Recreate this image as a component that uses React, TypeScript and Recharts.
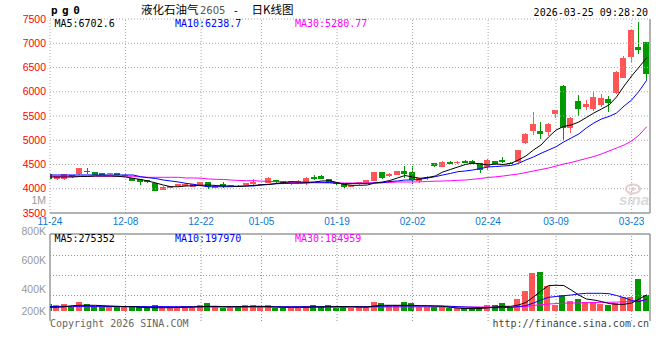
import React from 'react';
import { ComposedChart, Bar, Line, XAxis, YAxis, ReferenceLine } from 'recharts';

// ---------- data ----------
const dates = ['11-24','11-25','11-26','11-27','11-28','12-01','12-02','12-03','12-04','12-05','12-08','12-09','12-10','12-11','12-12','12-15','12-16','12-17','12-18','12-19','12-22','12-23','12-24','12-25','12-26','12-29','12-30','12-31','01-05','01-06','01-07','01-08','01-09','01-12','01-13','01-14','01-15','01-16','01-19','01-20','01-21','01-22','01-23','01-26','01-27','01-28','01-29','01-30','02-02','02-03','02-04','02-05','02-06','02-09','02-10','02-11','02-12','02-13','02-24','02-25','02-26','02-27','03-02','03-03','03-04','03-05','03-06','03-09','03-10','03-11','03-12','03-13','03-16','03-17','03-18','03-19','03-20','03-23','03-24','03-25'];

const tickLabels = ['11-24','12-08','12-22','01-05','01-19','02-02','02-24','03-09','03-23'];

const opens = [4300,4195,4195,4278,4290,4366,4339,4325,4298,4319,
  4263,4225,4200,4180,4115,3990,4022,4042,4057,4036,
  4063,4133,4030,4092,4050,4060,4063,4092,4075,4133,
  4174,4160,4100,4125,4145,4249,4269,4201,4133,4098,
  4036,4092,4112,4166,4345,4249,4284,4356,4352,4145,
  4215,4525,4455,4558,4537,4578,4578,4525,4455,4572,
  4593,4537,4558,4937,5176,5191,5156,5541,6119,5259,
  5809,5692,5638,5727,5851,5981,6290,6723,6916,7020];
const highs = [4315,4270,4305,4285,4430,4428,4345,4330,4325,4322,
  4300,4230,4205,4185,4120,4050,4060,4098,4115,4098,
  4145,4140,4068,4145,4082,4068,4118,4200,4098,4235,
  4187,4165,4170,4172,4249,4283,4290,4210,4140,4105,
  4080,4145,4188,4352,4350,4319,4368,4475,4470,4230,
  4270,4540,4565,4565,4565,4600,4585,4530,4620,4580,
  4650,4545,4805,5140,5589,5383,5350,5630,6130,5486,
  5933,5830,6016,5953,5912,6420,6737,7280,7444,7030];
const lows = [4175,4190,4190,4230,4285,4304,4280,4280,4290,4280,
  4250,4165,4090,4120,3955,3985,4015,4035,4050,4030,
  4055,3990,4000,4022,4045,4025,4058,4063,4068,4128,
  4128,4105,4090,4118,4077,4180,4200,4140,4085,4030,
  4030,4085,4105,4160,4200,4228,4278,4228,4100,4130,
  4180,4450,4445,4520,4500,4540,4520,4325,4400,4500,
  4525,4500,4540,4920,5108,5040,5090,5460,5005,5156,
  5500,5624,5603,5692,5589,5954,6280,6620,6793,6242];
const closes = [4195,4263,4298,4236,4422,4345,4284,4284,4319,4284,
  4285,4170,4145,4135,3960,4045,4057,4092,4104,4092,
  4133,4030,4063,4042,4077,4030,4112,4133,4090,4228,
  4133,4112,4150,4166,4228,4201,4207,4145,4092,4042,
  4071,4139,4180,4345,4228,4298,4360,4284,4180,4215,
  4240,4455,4558,4525,4558,4545,4525,4387,4593,4504,
  4558,4510,4799,5129,5329,5123,5329,5624,5259,5465,
  5638,5747,5886,5865,5774,6414,6702,7273,6847,6366];

const ma5 = [4242,4242,4242,4242,4253,4253,4263,4263,4263,4257,
  4242,4216,4191,4160,4119,4077,4042,4042,4057,4063,
  4071,4077,4067,4057,4057,4046,4057,4071,4077,4088,
  4108,4129,4145,4139,4133,4139,4160,4166,4129,4088,
  4071,4071,4077,4119,4139,4170,4222,4273,4242,4216,
  4232,4263,4345,4397,4449,4500,4531,4510,4490,4510,
  4500,4521,4593,4675,4799,4902,5067,5211,5284,5315,
  5376,5469,5562,5644,5727,5892,6119,6325,6511,6702.6];
const ma10 = [4284,4284,4284,4284,4284,4284,4284,4284,4284,4284,
  4284,4284,4249,4228,4211,4180,4160,4139,4112,4092,
  4063,4040,4042,4042,4042,4053,4057,4057,4084,4092,
  4104,4108,4112,4112,4119,4133,4133,4129,4112,4108,
  4108,4108,4108,4119,4125,4150,4160,4180,4180,4195,
  4222,4249,4284,4315,4352,4366,4387,4418,4449,4459,
  4469,4479,4521,4593,4655,4731,4799,4867,4964,5047,
  5129,5253,5356,5438,5490,5562,5706,5830,6016,6238.7];
const ma30 = [4258,4258,4258,4258,4258,4258,4258,4258,4258,4258,
  4258,4258,4242,4236,4236,4236,4236,4236,4222,4222,
  4218,4201,4195,4191,4180,4170,4166,4166,4156,4150,
  4145,4139,4129,4125,4125,4123,4122,4120,4120,4118,
  4118,4118,4120,4122,4125,4129,4139,4139,4139,4143,
  4150,4156,4160,4166,4174,4180,4195,4211,4232,4246,
  4263,4284,4304,4335,4366,4397,4428,4469,4510,4541,
  4583,4624,4665,4717,4778,4840,4902,4985,5108,5280.77];

const volumes = [118400,103700,119600,72800,152900,118100,84600,73500,85200,72400,
  85800,73300,72900,74100,102600,85400,63200,62800,63500,62600,
  101900,136400,84700,56300,79800,85100,102300,101700,85600,102100,
  56400,55900,56200,56700,84900,102500,85300,101800,56100,84800,
  56500,85200,84600,153200,136100,102400,101600,152800,136300,73200,
  72700,73400,72600,56200,55800,46300,45900,73100,102200,101900,
  136200,56400,204100,340200,646300,663100,425200,110400,272300,170100,
  204300,148200,147600,119300,102100,141300,238400,237800,544200,271900];

const volMa5 = [62900,62900,73100,90100,96900,96900,96900,90100,85000,79900,
  73100,73100,62900,56100,56100,56100,56100,59500,62900,68000,
  73100,79900,79900,73100,73100,73100,73100,79900,79900,73100,
  68000,62900,62900,62900,62900,68000,68000,73100,73100,73100,
  73100,68000,68000,85000,96900,96900,96900,96900,96900,90100,
  90100,85000,79900,62900,51000,42500,39100,42500,56100,68000,
  79900,79900,102000,144500,238000,340000,433500,436900,433500,357000,
  272000,204000,187000,161500,127500,113900,113900,136000,204000,275352];
const volMa10 = [76500,76500,79900,79900,79900,79900,79900,79900,76500,76500,
  76500,76500,76500,73100,73100,73100,73100,73100,73100,73100,
  73100,73100,73100,73100,73100,73100,73100,73100,73100,73100,
  73100,73100,73100,73100,73100,73100,73100,73100,73100,73100,
  73100,73100,73100,79900,79900,85000,85000,85000,85000,85000,
  85000,85000,85000,79900,73100,68000,62900,59500,56100,56100,
  59500,59500,76500,90100,136000,187000,232900,246500,260100,272000,
  289000,300900,300900,300900,294100,263500,226100,178500,161500,197970];
const volMa30 = [76500,76500,76500,74800,74800,74800,74800,73100,73100,73100,
  73100,73100,71400,71400,71400,71400,69700,69700,69700,69700,
  69700,69700,68000,68000,68000,68000,68000,68000,68000,68000,
  68000,66300,66300,66300,66300,66300,64600,64600,64600,64600,
  64600,64600,64600,66300,66300,66300,68000,68000,69700,69700,
  69700,69700,69700,69700,69700,68000,68000,68000,68000,68000,
  68000,68000,71400,78200,93500,107100,119000,125800,132600,136000,
  137700,141100,144500,146200,147900,151300,156400,161500,175100,184959];

const priceTicks = [3500, 4000, 4500, 5000, 5500, 6000, 6500, 7000, 7500];
const priceGrid = [4000, 4500, 5000, 5500, 6000, 6500, 7000];
const volHint = { value: 3750, label: '1M' };
const volTicks = [200000, 400000, 600000, 800000];
const volTickLabels = ['200K', '400K', '600K', '800K'];
const volGrid = [263500, 603500, 943500];

const headerMA = { ma5: 'MA5:6702.6', ma10: 'MA10:6238.7', ma30: 'MA30:5280.77' };
const volMA = { ma5: 'MA5:275352', ma10: 'MA10:197970', ma30: 'MA30:184959' };

// ---------- styling ----------
const RED = '#ff5555';
const GREEN = '#009900';
const GRID = '#a8a8a8';
const VGRID = '#959595';
const FRAME = '#999999';
const DATE_BLUE = '#0a78d2';
const X_DOMAIN: [number, number] = [0, 79.43];
const PRICE_DOMAIN: [number, number] = [3500, 7500];
const VOL_DOMAIN: [number, number] = [-170000, 1309000];
const VOL_LABEL_DOMAIN: [number, number] = [200000, 800000];
const VOL_LABEL_MAX_Y = 86;

const rows = dates.map((d, i) => ({
  i,
  date: d,
  open: opens[i],
  high: highs[i],
  low: lows[i],
  close: closes[i],
  range: [lows[i], highs[i]],
  ma5: ma5[i],
  ma10: ma10[i],
  ma30: ma30[i],
  vol: volumes[i],
  vma5: volMa5[i],
  vma10: volMa10[i],
  vma30: volMa30[i],
}));

const tickIdx = tickLabels.map((t) => dates.indexOf(t));

// grid segments for the volume panel, built from the tick / grid arrays
const volHSegments = volGrid.map((v) => [{ i: X_DOMAIN[0], g: v }, { i: X_DOMAIN[1], g: v }]);
const volVSegments = tickIdx.slice(1).map((t) => [{ i: t, g: VOL_DOMAIN[0] }, { i: t, g: VOL_DOMAIN[1] }]);

const MONO = "'DejaVu Sans Mono', monospace";
const SANS = "'Liberation Sans', Arial, sans-serif";

const Candle = (props: any) => {
  const { x, y, width, height } = props;
  const p = props.payload || props;
  if (x == null || y == null) return null;
  const top = Math.min(y, y + height);
  const h = Math.abs(height);
  const ratio = p.high === p.low ? 0 : h / (p.high - p.low);
  const yO = top + (p.high - p.open) * ratio;
  const yC = top + (p.high - p.close) * ratio;
  const up = p.close >= p.open;
  const color = up ? RED : GREEN;
  const cx = Math.round(x + width / 2);
  const bTop = Math.round(Math.min(yO, yC));
  const bH = Math.max(1, Math.round(Math.abs(yO - yC)));
  return (
    <g shapeRendering="crispEdges">
      <rect x={cx - 1} y={Math.round(top)} width={1} height={Math.max(1, Math.round(h))} fill={color} />
      <rect x={cx - 4} y={bTop} width={6} height={bH} fill={color} />
    </g>
  );
};

const VolBar = (props: any) => {
  const { x, y, width, height } = props;
  const p = props.payload || props;
  if (x == null || y == null) return null;
  const up = p.close >= p.open;
  const cx = Math.round(x + width / 2);
  const top = Math.round(Math.min(y, y + height));
  const h = Math.round(Math.abs(height));
  return <rect x={cx - 4} y={top} width={6} height={Math.max(1, h)} fill={up ? RED : GREEN} shapeRendering="crispEdges" />;
};

const DateTick = (props: any) => {
  const { x, y, payload } = props;
  return (
    <text x={x} y={y} dy="0.71em" textAnchor="middle" fill={DATE_BLUE} fontSize={10} fontFamily={SANS}>
      {dates[payload.value]}
    </text>
  );
};

const PriceTick = (props: any) => {
  const { x, y, payload } = props;
  const v = payload.value;
  const isHint = v === volHint.value;
  return (
    <text x={x} y={Math.max(y, 16)} dy="0.34em" textAnchor="end" fill={isHint ? '#999' : '#ff0000'} fontSize={10.5} fontFamily={SANS}>
      {isHint ? volHint.label : String(v)}
    </text>
  );
};

const VolTick = (props: any) => {
  const { x, y, payload } = props;
  const idx = volTicks.indexOf(payload.value);
  return (
    <text x={x} y={Math.min(y - 3, VOL_LABEL_MAX_Y)} dy="0.36em" textAnchor="end" fill="#999" fontSize={10.5} fontFamily={SANS}>
      {volTickLabels[idx]}
    </text>
  );
};

const NoTick = () => null;

export default function App() {
  return (
    <div style={{ position: 'absolute', left: 0, top: 0, width: 660, height: 360, background: '#fff', overflow: 'hidden' }}>
      <div style={{ position: 'absolute', left: 0, top: 0 }}>
        <ComposedChart width={660} height={232} data={rows} margin={{ top: 19, right: 10, bottom: 0, left: 0 }}>
          <XAxis
            dataKey="i"
            type="number"
            domain={X_DOMAIN}
            allowDataOverflow
            ticks={tickIdx}
            interval={0}
            height={19}
            axisLine={false}
            tickLine={false}
            tickSize={0}
            tickMargin={4.5}
            tick={<DateTick />}
          />
          <YAxis
            domain={PRICE_DOMAIN}
            ticks={[...priceTicks, volHint.value]}
            interval={0}
            width={50}
            axisLine={false}
            tickLine={false}
            tickSize={0}
            tickMargin={4}
            tick={<PriceTick />}
            allowDataOverflow
          />
          {priceGrid.map((v) => (
            <ReferenceLine key={'pg' + v} y={v} stroke={GRID} strokeDasharray="1 2" />
          ))}
          {tickIdx.map((t) => (
            <ReferenceLine key={'pv' + t} x={t} stroke={GRID} strokeDasharray="1 2" />
          ))}
          <ReferenceLine y={PRICE_DOMAIN[1]} stroke={GRID} strokeDasharray="1 2" />
          <ReferenceLine y={PRICE_DOMAIN[0]} stroke={FRAME} strokeWidth={1.5} />
          <ReferenceLine x={X_DOMAIN[1]} stroke={FRAME} strokeWidth={1.5} />
          <Bar dataKey="range" barSize={6} shape={<Candle />} isAnimationActive={false} />
          <Line dataKey="ma30" stroke="#ff00ff" strokeWidth={1} dot={false} isAnimationActive={false} />
          <Line dataKey="ma10" stroke="#0000ff" strokeWidth={1} dot={false} isAnimationActive={false} />
          <Line dataKey="ma5" stroke="#000000" strokeWidth={1} dot={false} isAnimationActive={false} />
        </ComposedChart>
      </div>
      <div style={{ position: 'absolute', left: 0, top: 225 }}>
        <ComposedChart width={660} height={100} data={rows} margin={{ top: 9, right: 10, bottom: 4, left: 0 }}>
          <XAxis
            dataKey="i"
            type="number"
            domain={X_DOMAIN}
            allowDataOverflow
            ticks={tickIdx}
            interval={0}
            height={0}
            axisLine={false}
            tickLine={false}
            tick={<NoTick />}
          />
          <YAxis
            yAxisId="lab"
            domain={VOL_LABEL_DOMAIN}
            allowDataOverflow
            ticks={volTicks}
            interval={0}
            width={50}
            axisLine={false}
            tickLine={false}
            tickSize={0}
            tickMargin={4}
            tick={<VolTick />}
          />
          <YAxis
            domain={VOL_DOMAIN}
            allowDataOverflow
            width={0}
            axisLine={false}
            tickLine={false}
            tick={<NoTick />}
          />
          {volHSegments.map((seg, k) => (
            <Line key={'vh' + k} data={seg} dataKey="g" stroke={VGRID} strokeDasharray="1 2" strokeWidth={1} dot={false} activeDot={false} isAnimationActive={false} legendType="none" />
          ))}
          {volVSegments.map((seg, k) => (
            <Line key={'vv' + k} data={seg} dataKey="g" stroke={VGRID} strokeDasharray="1 2" strokeWidth={1} dot={false} activeDot={false} isAnimationActive={false} legendType="none" />
          ))}
          <ReferenceLine x={0} stroke={FRAME} strokeWidth={1.5} />
          <ReferenceLine x={X_DOMAIN[1]} stroke={FRAME} strokeWidth={1.5} />
          <ReferenceLine y={VOL_DOMAIN[1]} stroke={FRAME} strokeWidth={1.5} />
          <Bar dataKey="vol" barSize={6} shape={<VolBar />} isAnimationActive={false} />
          <Line dataKey="vma30" stroke="#ff00ff" strokeWidth={1} dot={false} isAnimationActive={false} />
          <Line dataKey="vma10" stroke="#0000ff" strokeWidth={1} dot={false} isAnimationActive={false} />
          <Line dataKey="vma5" stroke="#000000" strokeWidth={1} dot={false} isAnimationActive={false} />
        </ComposedChart>
      </div>
      <svg width={660} height={360} style={{ position: 'absolute', left: 0, top: 0, pointerEvents: 'none' }}>
        <text x={51} y={13.5} fontFamily={MONO} fontWeight="bold" fontSize={11} letterSpacing={4.5} fill="#000">pg0</text>
        <text x={141} y={14} fontFamily="'Noto Sans CJK SC', sans-serif" fontSize={11.5} fill="#000">液化石油气</text>
        <text x={200} y={13.5} fontFamily="'DejaVu Sans', sans-serif" fontSize={10} fill="#555">2605</text>
        <text x={234} y={13.5} fontFamily="'DejaVu Sans', sans-serif" fontSize={10} fill="#000">-</text>
        <text x={251.5} y={14} fontFamily="'Noto Sans CJK SC', sans-serif" fontSize={11.5} fill="#000">日K线图</text>
        <text x={648} y={15.5} textAnchor="end" fontFamily={MONO} fontSize={10} fill="#000">2026-03-25 09:28:20</text>
        <text x={54.5} y={27} fontFamily={MONO} fontSize={10} fill="#000">{headerMA.ma5}</text>
        <text x={175} y={27} fontFamily={MONO} fontSize={10} fill="#0000ff">{headerMA.ma10}</text>
        <text x={295} y={27} fontFamily={MONO} fontSize={10} fill="#ff00ff">{headerMA.ma30}</text>
        <text x={54.5} y={242.3} fontFamily={MONO} fontSize={10} fill="#000">{volMA.ma5}</text>
        <text x={175} y={242.3} fontFamily={MONO} fontSize={10} fill="#0000ff">{volMA.ma10}</text>
        <text x={295} y={242.3} fontFamily={MONO} fontSize={10} fill="#ff00ff">{volMA.ma30}</text>
        <text x={50} y={326.5} fontFamily={MONO} fontSize={10} fill="#666">Copyright 2026 SINA.COM</text>
        <text x={649} y={326.5} textAnchor="end" fontFamily={MONO} fontSize={10} fill="#444">http://finance.sina.com.cn</text>
        <g opacity={0.9}>
          <ellipse cx={633} cy={189} rx={7} ry={4.5} fill="none" stroke="#e3caca" strokeWidth={2} />
          <circle cx={633} cy={189} r={2} fill="#e3caca" />
          <text x={619} y={205} fontFamily={SANS} fontStyle="italic" fontWeight="bold" fontSize={15} fill="#d6d6d6">sina</text>
        </g>
      </svg>
    </div>
  );
}
